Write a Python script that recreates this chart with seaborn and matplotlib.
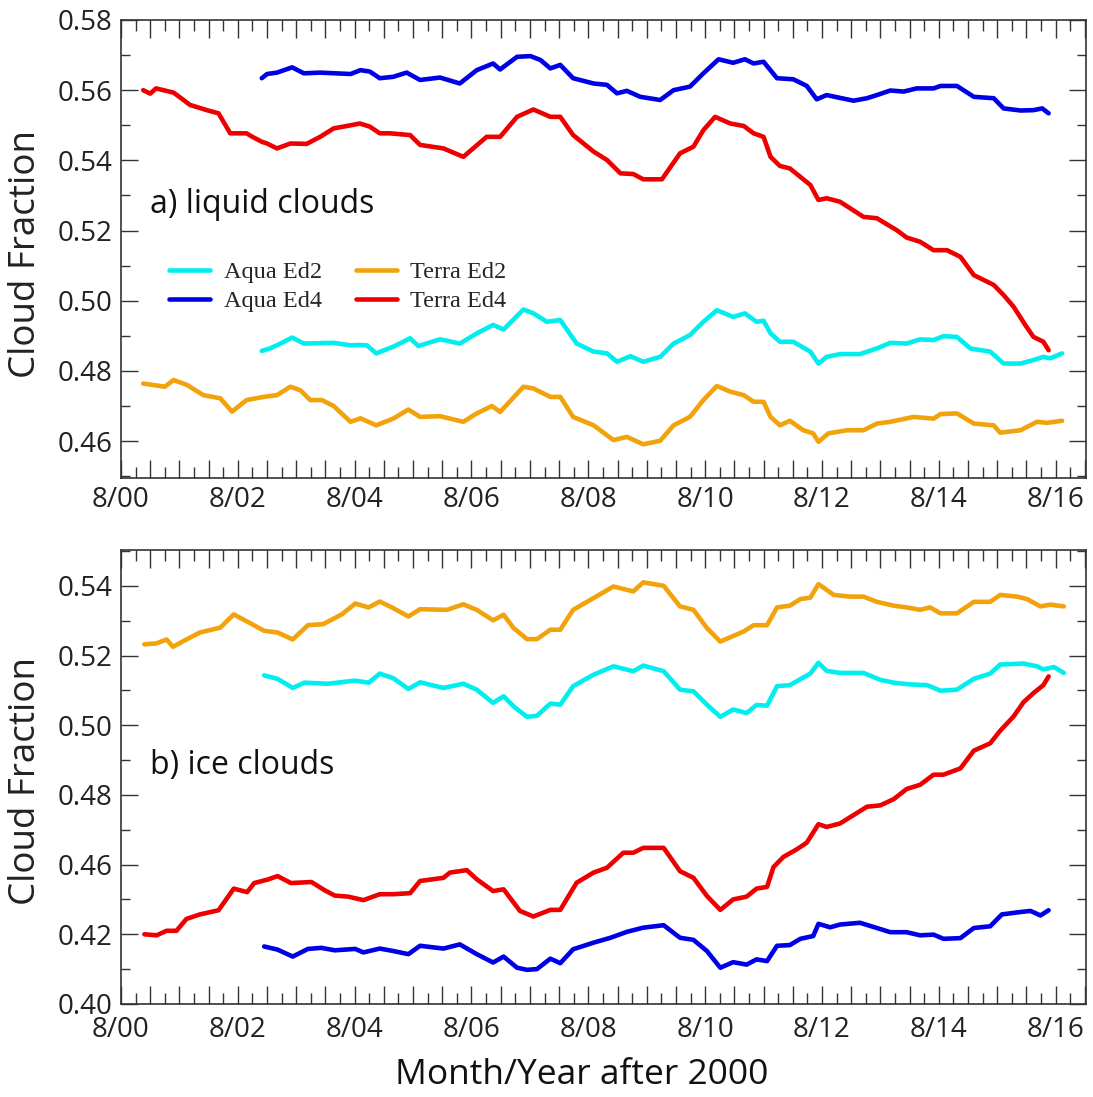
import numpy as np
import pandas as pd
import matplotlib
matplotlib.use("Agg")
import matplotlib.pyplot as plt
import seaborn as sns
from matplotlib.ticker import MultipleLocator, FixedLocator, FuncFormatter
from matplotlib.lines import Line2D

# ---------------- data (years after Aug 2000) ----------------
series_names = ["Aqua Ed2", "Aqua Ed4", "Terra Ed2", "Terra Ed4"]
series_colors = ["#00EEEE", "#0000E6", "#F2A20A", "#EE0000"]

x_tick_pos = [0, 2, 4, 6, 8, 10, 12, 14, 16]
x_tick_labels = ["8/00", "8/02", "8/04", "8/06", "8/08", "8/10", "8/12", "8/14", "8/16"]

liq_yticks = [0.46, 0.48, 0.50, 0.52, 0.54, 0.56, 0.58]
liq_ytick_labels = ["0.46", "0.48", "0.50", "0.52", "0.54", "0.56", "0.58"]
ice_yticks = [0.42, 0.44, 0.46, 0.48, 0.50, 0.52, 0.54]
ice_ytick_labels = ["0.40", "0.42", "0.46", "0.48", "0.50", "0.52", "0.54"]

# --- a) liquid clouds ---
liq_terra_ed4_t = [0.38, 0.50, 0.60, 0.90, 1.07, 1.18, 1.47, 1.67, 1.87, 2.15, 2.25, 2.41, 2.50, 2.67, 2.90, 3.18, 3.41, 3.64, 3.87, 4.09, 4.26, 4.43, 4.60, 4.95, 5.12, 5.52, 5.86, 6.26, 6.49, 6.78, 7.06, 7.35, 7.52, 7.74, 8.09, 8.32, 8.55, 8.77, 8.94, 9.26, 9.57, 9.80, 9.97, 10.17, 10.43, 10.66, 10.83, 11.00, 11.12, 11.28, 11.45, 11.80, 11.94, 12.08, 12.31, 12.71, 12.94, 13.28, 13.45, 13.68, 13.91, 14.14, 14.37, 14.60, 14.94, 15.11, 15.28, 15.48, 15.62, 15.79, 15.88]
liq_terra_ed4_v = [0.5600, 0.5590, 0.5605, 0.5593, 0.5572, 0.5558, 0.5543, 0.5534, 0.5477, 0.5477, 0.5467, 0.5453, 0.5448, 0.5434, 0.5448, 0.5447, 0.5467, 0.5491, 0.5498, 0.5505, 0.5496, 0.5477, 0.5477, 0.5472, 0.5444, 0.5434, 0.5410, 0.5467, 0.5467, 0.5524, 0.5545, 0.5524, 0.5524, 0.5472, 0.5425, 0.5401, 0.5363, 0.5361, 0.5346, 0.5346, 0.5420, 0.5439, 0.5486, 0.5524, 0.5505, 0.5498, 0.5477, 0.5467, 0.5410, 0.5384, 0.5377, 0.5330, 0.5287, 0.5292, 0.5282, 0.5239, 0.5235, 0.5201, 0.5180, 0.5168, 0.5144, 0.5144, 0.5125, 0.5073, 0.5045, 0.5016, 0.4983, 0.4931, 0.4897, 0.4883, 0.4859]

liq_aqua_ed4_t = [2.41, 2.50, 2.67, 2.93, 3.13, 3.41, 3.93, 4.10, 4.26, 4.43, 4.66, 4.89, 5.12, 5.46, 5.80, 6.09, 6.37, 6.49, 6.78, 7.01, 7.18, 7.35, 7.52, 7.74, 8.09, 8.32, 8.49, 8.66, 8.89, 9.23, 9.46, 9.74, 9.97, 10.23, 10.48, 10.68, 10.83, 11.00, 11.23, 11.51, 11.74, 11.91, 12.08, 12.25, 12.54, 12.77, 12.94, 13.17, 13.40, 13.62, 13.91, 14.03, 14.31, 14.60, 14.94, 15.11, 15.40, 15.62, 15.77, 15.88]
liq_aqua_ed4_v = [0.5634, 0.5646, 0.5650, 0.5665, 0.5648, 0.5650, 0.5646, 0.5657, 0.5653, 0.5634, 0.5638, 0.5650, 0.5629, 0.5636, 0.5619, 0.5657, 0.5676, 0.5659, 0.5695, 0.5697, 0.5686, 0.5662, 0.5672, 0.5634, 0.5619, 0.5615, 0.5591, 0.5598, 0.5581, 0.5572, 0.5600, 0.5610, 0.5648, 0.5688, 0.5678, 0.5688, 0.5676, 0.5681, 0.5634, 0.5631, 0.5612, 0.5574, 0.5586, 0.5580, 0.5570, 0.5577, 0.5586, 0.5599, 0.5596, 0.5605, 0.5605, 0.5612, 0.5612, 0.5581, 0.5577, 0.5548, 0.5542, 0.5543, 0.5548, 0.5534]

liq_aqua_ed2_t = [2.41, 2.55, 2.73, 2.93, 3.13, 3.64, 3.93, 4.09, 4.21, 4.37, 4.66, 4.95, 5.09, 5.46, 5.80, 6.09, 6.37, 6.55, 6.89, 7.06, 7.29, 7.52, 7.80, 8.09, 8.32, 8.49, 8.72, 8.94, 9.23, 9.46, 9.74, 9.97, 10.20, 10.48, 10.68, 10.88, 11.00, 11.12, 11.28, 11.51, 11.80, 11.94, 12.08, 12.31, 12.65, 12.94, 13.17, 13.45, 13.68, 13.91, 14.08, 14.31, 14.54, 14.88, 15.11, 15.40, 15.62, 15.79, 15.91, 16.11]
liq_aqua_ed2_v = [0.4857, 0.4864, 0.4878, 0.4895, 0.4878, 0.4880, 0.4873, 0.4874, 0.4873, 0.4850, 0.4869, 0.4893, 0.4871, 0.4890, 0.4878, 0.4907, 0.4931, 0.4918, 0.4975, 0.4964, 0.4940, 0.4945, 0.4878, 0.4855, 0.4850, 0.4826, 0.4842, 0.4826, 0.4840, 0.4878, 0.4902, 0.4940, 0.4973, 0.4954, 0.4964, 0.4940, 0.4943, 0.4907, 0.4883, 0.4883, 0.4855, 0.4821, 0.4840, 0.4848, 0.4848, 0.4864, 0.4880, 0.4878, 0.4890, 0.4888, 0.4899, 0.4897, 0.4864, 0.4855, 0.4821, 0.4821, 0.4831, 0.4840, 0.4836, 0.4850]

liq_terra_ed2_t = [0.38, 0.55, 0.75, 0.90, 1.13, 1.41, 1.70, 1.90, 2.15, 2.44, 2.67, 2.90, 3.07, 3.24, 3.44, 3.64, 3.93, 4.10, 4.37, 4.66, 4.92, 5.12, 5.46, 5.86, 6.09, 6.35, 6.49, 6.89, 7.06, 7.35, 7.52, 7.74, 8.09, 8.43, 8.66, 8.94, 9.23, 9.46, 9.74, 9.97, 10.20, 10.43, 10.66, 10.83, 11.00, 11.12, 11.28, 11.45, 11.68, 11.85, 11.94, 12.11, 12.43, 12.71, 12.94, 13.17, 13.57, 13.91, 14.03, 14.31, 14.60, 14.94, 15.05, 15.40, 15.68, 15.85, 16.11]
liq_terra_ed2_v = [0.4764, 0.4760, 0.4755, 0.4774, 0.4760, 0.4731, 0.4722, 0.4684, 0.4717, 0.4726, 0.4731, 0.4755, 0.4745, 0.4717, 0.4717, 0.4700, 0.4655, 0.4665, 0.4645, 0.4664, 0.4690, 0.4669, 0.4671, 0.4655, 0.4679, 0.4700, 0.4683, 0.4755, 0.4750, 0.4726, 0.4726, 0.4669, 0.4645, 0.4603, 0.4612, 0.4591, 0.4601, 0.4645, 0.4669, 0.4717, 0.4757, 0.4741, 0.4731, 0.4712, 0.4712, 0.4669, 0.4645, 0.4658, 0.4631, 0.4622, 0.4598, 0.4622, 0.4631, 0.4631, 0.4650, 0.4655, 0.4669, 0.4664, 0.4677, 0.4679, 0.4650, 0.4645, 0.4624, 0.4631, 0.4655, 0.4652, 0.4658]

# --- b) ice clouds ---
ice_terra_ed2_t = [0.40, 0.61, 0.78, 0.89, 1.12, 1.35, 1.70, 1.93, 2.22, 2.45, 2.68, 2.94, 3.20, 3.46, 3.78, 4.01, 4.24, 4.43, 4.66, 4.92, 5.12, 5.58, 5.86, 6.09, 6.37, 6.55, 6.72, 6.95, 7.12, 7.35, 7.52, 7.74, 8.09, 8.43, 8.77, 8.94, 9.29, 9.57, 9.80, 10.03, 10.26, 10.48, 10.66, 10.83, 11.06, 11.23, 11.45, 11.63, 11.80, 11.94, 12.20, 12.48, 12.71, 12.94, 13.23, 13.45, 13.68, 13.85, 14.03, 14.31, 14.60, 14.88, 15.05, 15.34, 15.51, 15.74, 15.91, 16.14]
ice_terra_ed2_v = [0.5232, 0.5235, 0.5246, 0.5225, 0.5246, 0.5266, 0.5280, 0.5318, 0.5292, 0.5271, 0.5266, 0.5246, 0.5287, 0.5290, 0.5318, 0.5349, 0.5338, 0.5355, 0.5336, 0.5312, 0.5333, 0.5331, 0.5347, 0.5331, 0.5301, 0.5317, 0.5279, 0.5247, 0.5247, 0.5274, 0.5274, 0.5331, 0.5365, 0.5398, 0.5384, 0.5410, 0.5400, 0.5341, 0.5331, 0.5279, 0.5240, 0.5256, 0.5269, 0.5287, 0.5287, 0.5338, 0.5343, 0.5362, 0.5366, 0.5405, 0.5374, 0.5369, 0.5369, 0.5354, 0.5343, 0.5338, 0.5331, 0.5338, 0.5321, 0.5321, 0.5354, 0.5354, 0.5374, 0.5369, 0.5362, 0.5341, 0.5346, 0.5341]

ice_aqua_ed2_t = [2.45, 2.68, 2.94, 3.14, 3.54, 4.01, 4.24, 4.43, 4.66, 4.92, 5.12, 5.52, 5.86, 6.09, 6.37, 6.55, 6.72, 6.95, 7.12, 7.35, 7.52, 7.74, 8.09, 8.43, 8.77, 8.94, 9.29, 9.57, 9.80, 10.03, 10.26, 10.48, 10.71, 10.88, 11.06, 11.23, 11.45, 11.80, 11.94, 12.08, 12.31, 12.71, 13.00, 13.23, 13.51, 13.80, 14.03, 14.31, 14.60, 14.88, 15.05, 15.45, 15.68, 15.79, 15.97, 16.14]
ice_aqua_ed2_v = [0.5143, 0.5133, 0.5107, 0.5122, 0.5119, 0.5128, 0.5122, 0.5148, 0.5135, 0.5104, 0.5123, 0.5107, 0.5119, 0.5102, 0.5064, 0.5083, 0.5054, 0.5024, 0.5027, 0.5062, 0.5059, 0.5112, 0.5145, 0.5169, 0.5155, 0.5171, 0.5155, 0.5102, 0.5097, 0.5059, 0.5024, 0.5045, 0.5035, 0.5058, 0.5056, 0.5112, 0.5115, 0.5148, 0.5179, 0.5156, 0.5150, 0.5150, 0.5130, 0.5122, 0.5117, 0.5115, 0.5099, 0.5102, 0.5133, 0.5148, 0.5174, 0.5177, 0.5169, 0.5160, 0.5167, 0.5150]

ice_terra_ed4_t = [0.40, 0.61, 0.78, 0.95, 1.12, 1.35, 1.67, 1.93, 2.16, 2.28, 2.51, 2.68, 2.91, 3.26, 3.49, 3.66, 3.89, 4.15, 4.43, 4.66, 4.95, 5.12, 5.52, 5.63, 5.92, 6.09, 6.37, 6.55, 6.83, 7.06, 7.35, 7.52, 7.80, 8.09, 8.32, 8.60, 8.77, 8.94, 9.29, 9.57, 9.80, 10.03, 10.26, 10.48, 10.71, 10.88, 11.06, 11.17, 11.34, 11.57, 11.74, 11.94, 12.08, 12.31, 12.54, 12.77, 13.00, 13.23, 13.45, 13.68, 13.91, 14.08, 14.37, 14.60, 14.88, 15.05, 15.28, 15.45, 15.62, 15.79, 15.88]
ice_terra_ed4_v = [0.4400, 0.4397, 0.4410, 0.4410, 0.4444, 0.4457, 0.4469, 0.4531, 0.4521, 0.4547, 0.4557, 0.4567, 0.4547, 0.4550, 0.4526, 0.4511, 0.4508, 0.4498, 0.4515, 0.4515, 0.4518, 0.4553, 0.4562, 0.4577, 0.4584, 0.4558, 0.4524, 0.4529, 0.4467, 0.4451, 0.4470, 0.4470, 0.4548, 0.4577, 0.4591, 0.4634, 0.4634, 0.4648, 0.4648, 0.4581, 0.4562, 0.4510, 0.4470, 0.4500, 0.4508, 0.4531, 0.4536, 0.4593, 0.4622, 0.4644, 0.4663, 0.4716, 0.4708, 0.4718, 0.4742, 0.4766, 0.4770, 0.4788, 0.4817, 0.4829, 0.4858, 0.4858, 0.4876, 0.4927, 0.4948, 0.4984, 0.5025, 0.5066, 0.5092, 0.5115, 0.5140]

ice_aqua_ed4_t = [2.45, 2.68, 2.94, 3.20, 3.43, 3.66, 4.01, 4.15, 4.43, 4.66, 4.92, 5.12, 5.52, 5.80, 6.09, 6.37, 6.55, 6.78, 6.95, 7.12, 7.35, 7.52, 7.74, 8.09, 8.38, 8.66, 8.94, 9.29, 9.57, 9.80, 10.03, 10.26, 10.48, 10.71, 10.88, 11.06, 11.23, 11.45, 11.63, 11.85, 11.94, 12.14, 12.31, 12.65, 12.94, 13.17, 13.45, 13.68, 13.91, 14.08, 14.37, 14.60, 14.88, 15.08, 15.40, 15.57, 15.74, 15.88]
ice_aqua_ed4_v = [0.4365, 0.4356, 0.4336, 0.4358, 0.4361, 0.4354, 0.4358, 0.4348, 0.4359, 0.4352, 0.4343, 0.4367, 0.4359, 0.4371, 0.4343, 0.4319, 0.4336, 0.4304, 0.4298, 0.4300, 0.4330, 0.4317, 0.4357, 0.4376, 0.4390, 0.4407, 0.4419, 0.4426, 0.4390, 0.4384, 0.4352, 0.4304, 0.4320, 0.4313, 0.4328, 0.4323, 0.4367, 0.4369, 0.4387, 0.4395, 0.4430, 0.4420, 0.4428, 0.4433, 0.4418, 0.4406, 0.4406, 0.4397, 0.4399, 0.4387, 0.4389, 0.4418, 0.4423, 0.4457, 0.4464, 0.4467, 0.4454, 0.4469]


def long_df(pairs):
    frames = []
    for name, (t, v) in zip(series_names, pairs):
        frames.append(pd.DataFrame({"t": t, "v": v, "series": name}))
    return pd.concat(frames, ignore_index=True)


liq_df = long_df([(liq_aqua_ed2_t, liq_aqua_ed2_v), (liq_aqua_ed4_t, liq_aqua_ed4_v),
                  (liq_terra_ed2_t, liq_terra_ed2_v), (liq_terra_ed4_t, liq_terra_ed4_v)])
ice_df = long_df([(ice_aqua_ed2_t, ice_aqua_ed2_v), (ice_aqua_ed4_t, ice_aqua_ed4_v),
                  (ice_terra_ed2_t, ice_terra_ed2_v), (ice_terra_ed4_t, ice_terra_ed4_v)])

# ---------------- style ----------------
sns.set_theme(style="ticks")
plt.rcParams["font.family"] = ["Open Sans", "DejaVu Sans"]
plt.rcParams["axes.edgecolor"] = "#333333"
plt.rcParams["axes.linewidth"] = 1.2
plt.rcParams["xtick.color"] = "#333333"
plt.rcParams["ytick.color"] = "#333333"
plt.rcParams["xtick.labelcolor"] = "#222222"
plt.rcParams["ytick.labelcolor"] = "#222222"

palette = dict(zip(series_names, series_colors))

fig = plt.figure(figsize=(10.93, 10.97), dpi=100)
ax1 = fig.add_axes([0.1107, 0.5643, 0.8829, 0.4175])
ax2 = fig.add_axes([0.1107, 0.0848, 0.8829, 0.4139])

label_map = dict(zip(x_tick_pos, x_tick_labels))


def xfmt(val, pos):
    k = int(round(val))
    if abs(val - k) < 1e-6 and k in label_map:
        return label_map[k]
    return ""


for ax, df, yt, ytl, ylim, xpad in [
    (ax1, liq_df, liq_yticks, liq_ytick_labels, (0.4495, 0.58), 6),
    (ax2, ice_df, ice_yticks, ice_ytick_labels, (0.42, 0.5503), 9),
]:
    sns.lineplot(data=df, x="t", y="v", hue="series", hue_order=series_names,
                 palette=palette, estimator=None, linewidth=3.3, legend=False,
                 ax=ax, sort=True)
    ax.set_xlim(0, 16.52)
    ax.set_ylim(*ylim)
    ax.xaxis.set_major_locator(MultipleLocator(0.5))
    ax.xaxis.set_minor_locator(MultipleLocator(0.25))
    ax.xaxis.set_major_formatter(FuncFormatter(xfmt))
    ax.yaxis.set_major_locator(FixedLocator(yt))
    ax.set_yticklabels(ytl)
    ax.yaxis.set_minor_locator(MultipleLocator(0.01))
    ax.tick_params(which="both", direction="in", top=True, right=True, width=1.0)
    ax.tick_params(axis="x", which="major", length=13, labelsize=20, pad=xpad)
    ax.tick_params(axis="x", which="minor", length=8)
    ax.tick_params(axis="y", which="major", length=12, labelsize=20, pad=6)
    ax.tick_params(axis="y", which="minor", length=6.5)
    ax.set_xlabel("")
    ax.set_ylabel("Cloud Fraction", fontsize=26.5, color="#222222")
    ax.yaxis.set_label_coords(-0.080, 0.49)
    for s in ax.spines.values():
        s.set_visible(True)

ax1.text(0.030, 0.596, "a) liquid clouds", transform=ax1.transAxes, fontsize=23,
         va="center", ha="left", color="#111111")
ax2.text(0.030, 0.526, "b) ice clouds", transform=ax2.transAxes, fontsize=23,
         va="center", ha="left", color="#111111")

handles = [Line2D([0], [0], color=c, lw=3.3) for c in series_colors]
ax1.legend(handles, series_names, ncol=2, frameon=False, loc="upper left",
           bbox_to_anchor=(0.037, 0.500), borderpad=0,
           prop={"family": "Liberation Serif", "size": 17.5},
           handlelength=1.7, handletextpad=0.55, columnspacing=1.4,
           labelspacing=0.3)

fig.text(582 / 1093, 0.020, "Month/Year after 2000", fontsize=25.5, ha="center",
         va="center", color="#111111")

fig.savefig("out.png", dpi=100)
